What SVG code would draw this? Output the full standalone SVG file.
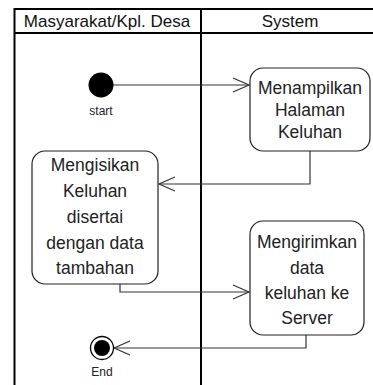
<svg xmlns="http://www.w3.org/2000/svg" width="373" height="385" viewBox="0 0 373 385">
  <style>
    .lane { fill: none; stroke: #000; stroke-width: 2; }
    .hdr { font-family: "Liberation Sans", Arial, sans-serif; font-size: 17px; fill: #111; text-anchor: middle; }
    .act rect { fill: #fff; stroke: #222; stroke-width: 1.2; }
    .act text { font-family: "Liberation Sans", Arial, sans-serif; font-size: 17.5px; fill: #222; text-anchor: middle; }
    .lbl { font-family: "Liberation Sans", Arial, sans-serif; font-size: 12px; fill: #222; text-anchor: middle; }
    .flow { fill: none; stroke: #333; stroke-width: 1.2; }
    .head { fill: none; stroke: #333; stroke-width: 1.2; }
  </style>
  <rect width="373" height="385" fill="#fff"/>

  <!-- swimlanes -->
  <g id="lanes">
    <path class="lane" d="M14.5 390 V9 H380 M14.5 33 H380 M201 9 V390"/>
    <text class="hdr" x="107" y="27">Masyarakat/Kpl. Desa</text>
    <text class="hdr" x="290" y="27">System</text>
  </g>

  <!-- connectors -->
  <g id="connectors">
    <path class="flow" d="M113 85 H249"/>
    <path class="head" d="M233 78 L249 85 L233 92"/>
    <path class="flow" d="M310 151 V184 H159"/>
    <path class="head" d="M175 177 L159 184 L175 191"/>
    <path class="flow" d="M120 284 V292 H249"/>
    <path class="head" d="M233 285 L249 292 L233 299"/>
    <path class="flow" d="M306 335 V348 H114"/>
    <path class="head" d="M130 341 L114 348 L130 355"/>
  </g>

  <g id="start">
    <circle cx="101" cy="85" r="12.5" fill="#000"/>
    <text class="lbl" x="101" y="115">start</text>
  </g>

  <g id="show-form" class="act">
    <rect x="250" y="68" width="120" height="83" rx="13"/>
    <text x="310" y="94">Menampilkan</text>
    <text x="310" y="116">Halaman</text>
    <text x="310" y="138">Keluhan</text>
  </g>

  <g id="fill-complaint" class="act">
    <rect x="32" y="151" width="126" height="133" rx="13"/>
    <text x="95" y="171">Mengisikan</text>
    <text x="95" y="197">Keluhan</text>
    <text x="95" y="223">disertai</text>
    <text x="95" y="249">dengan data</text>
    <text x="95" y="274">tambahan</text>
  </g>

  <g id="send-data" class="act">
    <rect x="250" y="221" width="114" height="114" rx="13"/>
    <text x="307" y="248">Mengirimkan</text>
    <text x="307" y="274">data</text>
    <text x="307" y="299">keluhan ke</text>
    <text x="307" y="324">Server</text>
  </g>

  <g id="end">
    <circle cx="102" cy="348" r="11.5" fill="#fff" stroke="#000" stroke-width="1.3"/>
    <circle cx="102" cy="348" r="8" fill="#000"/>
    <text class="lbl" x="102" y="376">End</text>
  </g>
</svg>
